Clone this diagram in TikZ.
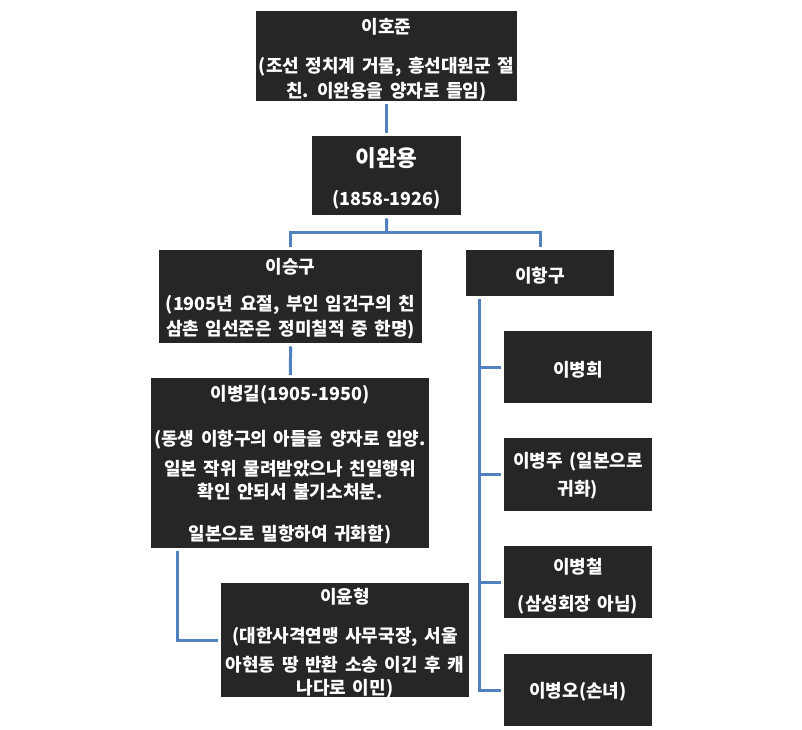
\documentclass[tikz,border=0pt]{standalone}
\usepackage{fontspec}
\setmainfont{Noto Sans CJK KR}[WordSpace=1.6]
\definecolor{boxc}{RGB}{38,38,38}
\definecolor{linec}{RGB}{79,129,189}
\begin{document}
\begin{tikzpicture}[x=1pt,y=-1pt,
  box/.style={fill=boxc, draw=none, inner sep=0pt, anchor=north west},
  txt/.style={text=white, font=\bfseries\fontsize{18}{21}\selectfont, inner sep=0pt, yshift=-2pt},
  big/.style={text=white, font=\bfseries\fontsize{22.5}{26}\selectfont, inner sep=0pt, yshift=-1pt},
  conn/.style={draw=linec, line width=3pt, shorten <=3pt, shorten >=3pt}]
\useasboundingbox (0,0) rectangle (802,729);
% boxes
\node[box, minimum width=261pt, minimum height=90pt] (hojun) at (256,11) {};
\node[box, minimum width=149pt, minimum height=79pt] (wanyong) at (312,136) {};
\node[box, minimum width=263pt, minimum height=93pt] (seunggu) at (159,250) {};
\node[box, minimum width=148pt, minimum height=46pt] (hanggu) at (466,250) {};
\node[box, minimum width=278pt, minimum height=170pt] (byeonggil) at (151,378) {};
\node[box, minimum width=248pt, minimum height=114pt] (yunhyeong) at (221,583) {};
\node[box, minimum width=148pt, minimum height=72pt] (byeonghui) at (504,331) {};
\node[box, minimum width=148pt, minimum height=73pt] (byeongju) at (504,438) {};
\node[box, minimum width=148pt, minimum height=72pt] (byeongcheol) at (504,546) {};
\node[box, minimum width=148pt, minimum height=72pt] (byeongo) at (504,654) {};
% texts
\node[txt] (hojunA) at (386.5,25) {이호준};
\node[txt] (hojunB) at (386.5,65) {(조선 정치계 거물, 흥선대원군 절};
\node[txt] (hojunC) at (386.5,90) {친. 이완용을 양자로 들임)};
\node[big] (wanyongA) at (386.5,157) {이완용};
\node[txt] (wanyongB) at (386.5,198) {(1858-1926)};
\node[txt] (seungguA) at (290.5,265) {이승구};
\node[txt] (seungguB) at (290.5,303) {(1905년 요절, 부인 임건구의 친};
\node[txt] (seungguC) at (290.5,328) {삼촌 임선준은 정미칠적 중 한명)};
\node[txt] (hangguA) at (540,274) {이항구};
\node[txt] (byeonggilA) at (290,393) {이병길(1905-1950)};
\node[txt] (byeonggilB) at (290,438) {(동생 이항구의 아들을 양자로 입양.};
\node[txt] (byeonggilC) at (290,467) {일본 작위 물려받았으나 친일행위};
\node[txt] (byeonggilD) at (290,490) {확인 안되서 불기소처분.};
\node[txt] (byeonggilE) at (290,533) {일본으로 밀항하여 귀화함)};
\node[txt] (yunhyeongA) at (345,595) {이윤형};
\node[txt] (yunhyeongB) at (345,635) {(대한사격연맹 사무국장, 서울};
\node[txt] (yunhyeongC) at (345,663) {아현동 땅 반환 소송 이긴 후 캐};
\node[txt] (yunhyeongD) at (345,687) {나다로 이민)};
\node[txt] (byeonghuiA) at (578,368) {이병희};
\node[txt] (byeongjuA) at (578,460) {이병주 (일본으로};
\node[txt] (byeongjuB) at (578,488) {귀화)};
\node[txt] (byeongcheolA) at (578,565) {이병철};
\node[txt] (byeongcheolB) at (578,603) {(삼성회장 아님)};
\node[txt] (byeongoA) at (578,690) {이병오(손녀)};
% connectors
\coordinate (split) at (386.5,232);
\draw[conn] (hojun.south) -- (wanyong.north);
\draw[conn, shorten >=0pt] (wanyong.south) -- (split);
\draw[conn] (seunggu.north) |- (split) -| (hanggu.north);
\draw[conn] (seunggu.south) -- (byeonggil.north);
\draw[conn] ([xshift=26pt]byeonggil.south west) |- (yunhyeong.west);
\draw[conn] ([xshift=13pt]hanggu.south west) |- (byeonghui.west);
\draw[conn] ([xshift=13pt]hanggu.south west) |- (byeongju.west);
\draw[conn] ([xshift=13pt]hanggu.south west) |- (byeongcheol.west);
\draw[conn] ([xshift=13pt]hanggu.south west) |- (byeongo.west);
\end{tikzpicture}
\end{document}
